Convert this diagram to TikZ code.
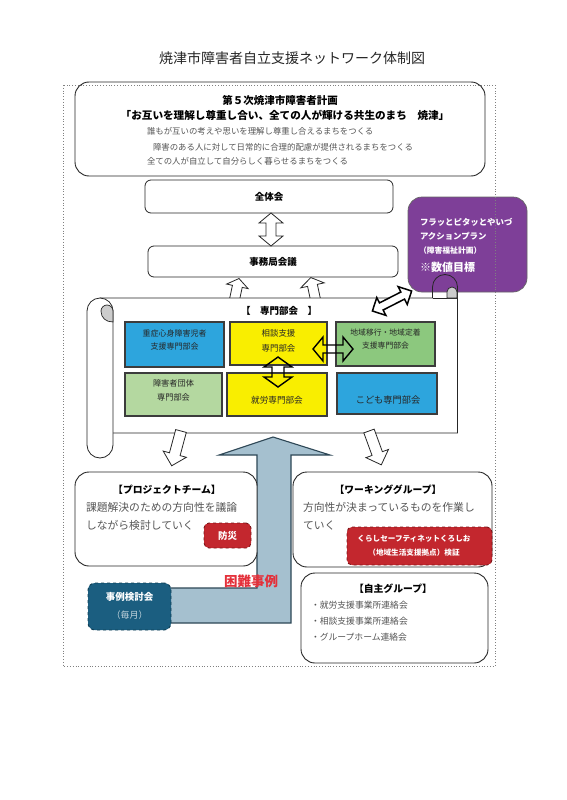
\documentclass[tikz,border=0pt]{standalone}
\usepackage{fontspec}
\setmainfont{Noto Sans CJK JP}
\definecolor{gtxt}{HTML}{555555}
\definecolor{bbord}{HTML}{3C3C3C}
\definecolor{cblue}{HTML}{2DA5DD}
\definecolor{cyellow}{HTML}{F9EE00}
\definecolor{cgreen}{HTML}{8CC87E}
\definecolor{clgreen}{HTML}{B4D8A0}
\definecolor{cpurple}{HTML}{7E3F98}
\definecolor{cred}{HTML}{C3272E}
\definecolor{credb}{HTML}{7A1518}
\definecolor{cteal}{HTML}{1B5E80}
\definecolor{ctealb}{HTML}{0F3F55}
\definecolor{carrow}{HTML}{A5C0CF}
\definecolor{carrowb}{HTML}{2E4756}
\definecolor{ckonnan}{HTML}{E4303A}
\tikzset{
  txt/.style={inner sep=0pt, outer sep=0pt},
  rbox/.style={draw=black!85, line width=0.9pt, rounded corners=14pt, fill=white, inner sep=0pt},
  sbox/.style={draw=black!85, line width=0.8pt, rounded corners=6pt, fill=white, inner sep=0pt},
  ubox/.style={draw=bbord, line width=1.1pt, inner sep=0pt},
  redbox/.style={fill=cred, draw=credb, dashed, line width=0.9pt, rounded corners=5pt, inner sep=0pt},
  tealbox/.style={fill=cteal, draw=ctealb, dashed, line width=0.9pt, rounded corners=7pt, inner sep=0pt},
  hollow/.style={draw=black!85, line width=0.8pt, fill=white},
  innerarr/.style={draw=black, line width=1.4pt},
  pics/dblarr/.style args={#1/#2/#3/#4}{code={
    \path[pic actions] (-#1/2,0) -- (-#1/2+#4,#3) -- (-#1/2+#4,#2) -- (#1/2-#4,#2) -- (#1/2-#4,#3) -- (#1/2,0) -- (#1/2-#4,-#3) -- (#1/2-#4,-#2) -- (-#1/2+#4,-#2) -- (-#1/2+#4,-#3) -- cycle;
  }},
  pics/sglarr/.style args={#1/#2/#3/#4}{code={
    \path[pic actions] (0,#2) -- (#1-#4,#2) -- (#1-#4,#3) -- (#1,0) -- (#1-#4,-#3) -- (#1-#4,-#2) -- (0,-#2) -- cycle;
  }},
}
\begin{document}
\begin{tikzpicture}[x=1pt,y=-1pt]
\fill[white] (0,0) rectangle (566,800);
\useasboundingbox (0,0) rectangle (566,800);

% title
\node[txt, font=\fontsize{14}{16}\selectfont, text=black!85] (title) at (292,58) {焼津市障害者自立支援ネットワーク体制図};

% top plan box
\node[rbox, minimum width=410, minimum height=94] (plan) at (280,129) {};
\node[txt, font=\bfseries\fontsize{10.5}{12}\selectfont] (plantitle) at (280,100) {第５次焼津市障害者計画};
\node[txt, font=\bfseries\fontsize{10.6}{12}\selectfont] (slogan) at (285,115) {「お互いを理解し尊重し合い、全ての人が輝ける共生のまち　焼津」};
\node[txt, anchor=west, text=gtxt, font=\fontsize{8.4}{10}\selectfont] (l1) at (147,131) {誰もが互いの考えや思いを理解し尊重し合えるまちをつくる};
\node[txt, anchor=west, text=gtxt, font=\fontsize{8.4}{10}\selectfont] (l2) at (153,147) {障害のある人に対して日常的に合理的配慮が提供されるまちをつくる};
\node[txt, anchor=west, text=gtxt, font=\fontsize{8.4}{10}\selectfont] (l3) at (147,161) {全ての人が自立して自分らしく暮らせるまちをつくる};

% zentai / jimukyoku
\node[sbox, minimum width=248, minimum height=33, font=\bfseries\fontsize{9.5}{11}\selectfont] (zentai) at (269,196.5) {全体会};
\node[sbox, minimum width=250, minimum height=31, font=\bfseries\fontsize{9.5}{11}\selectfont] (jimu) at (273,261.5) {事務局会議};
\pic[hollow, rotate=90] at (271,229.5) {dblarr={33/5/12/10}};

% purple action plan box
\node[fill=cpurple, draw=black!60, line width=0.7pt, rounded corners=14pt, minimum width=119, minimum height=95, inner sep=0pt] (action) at (467.5,244.5) {};
\node[txt, anchor=west, text=white, font=\bfseries\fontsize{8.4}{10}\selectfont] (a1) at (420,222) {フラッとピタッとやいづ};
\node[txt, anchor=west, text=white, font=\bfseries\fontsize{8.4}{10}\selectfont] (a2) at (420,236) {アクションプラン};
\node[txt, anchor=west, text=white, font=\bfseries\fontsize{7.8}{10}\selectfont] (a3) at (419,251) {（障害福祉計画）};
\node[txt, anchor=west, text=white, font=\bfseries\fontsize{11}{12}\selectfont] (a4) at (420,267) {※数値目標};

% up arrows from scroll to jimukyoku (behind scroll)
\pic[hollow, rotate=78] at (234,302) {sglarr={24/5/11/8}};
\pic[hollow, rotate=102] at (316,302) {sglarr={25/5/12/8}};

% scroll
\fill[white] (113,298) rectangle (457.5,433);
\draw[black!85, line width=0.8pt] (100,298) -- (432.5,298) -- (432.5,287) arc[start angle=180, end angle=360, radius=12.5] -- (457.5,433) -- (113,433);
\draw[black!85, line width=0.8pt] (432.5,298) -- (457.5,298);
\filldraw[fill=gray!40, draw=black!85, line width=0.7pt] (447,298) -- (447,292) arc[start angle=180, end angle=360, radius=5] -- (457,298) -- cycle;
\filldraw[fill=white, draw=black!85, line width=0.8pt] (87,445) -- (87,311) arc[start angle=180, end angle=360, radius=13] -- (113,445) arc[start angle=0, end angle=180, radius=13] -- cycle;
\filldraw[fill=gray!40, draw=black!85, line width=0.7pt] (113,322) -- (113,311) arc[start angle=0, end angle=-180, radius=6] .. controls (101,318) and (106,322) .. (113,322) -- cycle;
\node[txt, font=\bfseries\fontsize{9.5}{11}\selectfont] (senmon) at (279,311) {【　専門部会　】};

% sub-committee boxes
\node[ubox, fill=cblue, minimum width=99, minimum height=45] (b1) at (174.5,344.5) {};
\node[ubox, fill=cyellow, minimum width=97, minimum height=43] (b2) at (278.5,343.5) {};
\node[ubox, fill=cgreen, minimum width=99, minimum height=44] (b3) at (385.5,344) {};
\node[ubox, fill=clgreen, minimum width=97, minimum height=43] (b4) at (173.5,394.5) {};
\node[ubox, fill=cyellow, minimum width=100, minimum height=43] (b5) at (277,394.5) {};
\node[ubox, fill=cblue, minimum width=100, minimum height=41] (b6) at (387,393.5) {};
\node[txt, align=center, text=black!85, font=\fontsize{8}{13}\selectfont] (t1) at (174.5,339.5) {重症心身障害児者\\支援専門部会};
\node[txt, align=center, text=black!85, font=\fontsize{8.4}{15}\selectfont] (t2) at (278.5,340.5) {相談支援\\専門部会};
\node[txt, align=center, text=black!85, font=\fontsize{7.8}{13}\selectfont] (t3) at (385.5,339.5) {地域移行・地域定着\\支援専門部会};
\node[txt, align=center, text=black!85, font=\fontsize{8.2}{14}\selectfont] (t4) at (173.5,390) {障害者団体\\専門部会};
\node[txt, text=black!85, font=\fontsize{8.6}{10}\selectfont] (t5) at (277,400) {就労専門部会};
\node[txt, text=black!85, font=\fontsize{9.2}{10}\selectfont] (t6) at (388,400) {こども専門部会};
\pic[innerarr] at (333,349) {dblarr={40/4/12/10}};
\pic[innerarr, rotate=90] at (278,372) {dblarr={30/6/14/10}};

% diagonal double arrow scroll <-> action plan
\pic[draw=black, line width=1.5pt, fill=white, rotate=27] at (392,301) {dblarr={44/4/10/10}};

% down arrows
\pic[hollow, rotate=-105] at (181,431) {sglarr={36/5.5/12/12}};
\pic[hollow, rotate=-70] at (369,431) {sglarr={36/5.5/12/12}};

% big light blue arrow
\filldraw[fill=carrow, draw=carrowb, line width=1.1pt] (150,588) -- (257,588) -- (257,455) -- (219,455) -- (273,437) -- (330,455) -- (291,455) -- (291,623) -- (150,623) -- cycle;

% project team
\node[rbox, minimum width=182, minimum height=94] (pt) at (166,519) {};
\node[txt, font=\bfseries\fontsize{9.8}{11}\selectfont] (ptt) at (167,490) {【プロジェクトチーム】};
\node[txt, anchor=west, text=gtxt, font=\fontsize{10.8}{12}\selectfont] (pt1) at (86,507.5) {課題解決のための方向性を議論};
\node[txt, anchor=west, text=gtxt, font=\fontsize{10.8}{12}\selectfont] (pt2) at (86,525.5) {しながら検討していく};
\node[redbox, minimum width=47, minimum height=25, text=white, font=\bfseries\fontsize{9.5}{11}\selectfont] (bousai) at (227.5,535.5) {防災};

% working group
\node[rbox, minimum width=199, minimum height=95] (wg) at (392.5,519.5) {};
\node[txt, font=\bfseries\fontsize{9.8}{11}\selectfont] (wgt) at (388,490) {【ワーキンググループ】};
\node[txt, anchor=west, text=gtxt, font=\fontsize{10.8}{12}\selectfont] (wg1) at (303,507.5) {方向性が決まっているものを作業し};
\node[txt, anchor=west, text=gtxt, font=\fontsize{10.8}{12}\selectfont] (wg2) at (303,525.5) {ていく};
\node[redbox, minimum width=145, minimum height=38] (kurashi) at (419.5,546) {};
\node[txt, align=center, text=white, font=\bfseries\fontsize{7.6}{14}\selectfont] (kt) at (414,546) {くらしセーフティネットくろしお\\（地域生活支援拠点）検証};

% self group
\node[rbox, minimum width=187, minimum height=90] (sg) at (394.5,618) {};
\node[txt, font=\bfseries\fontsize{9.8}{11}\selectfont] (sgt) at (393,589) {【自主グループ】};
\node[txt, anchor=west, text=gtxt, font=\fontsize{8.8}{10}\selectfont] (sg1) at (311,605) {・就労支援事業所連絡会};
\node[txt, anchor=west, text=gtxt, font=\fontsize{8.8}{10}\selectfont] (sg2) at (311,621) {・相談支援事業所連絡会};
\node[txt, anchor=west, text=gtxt, font=\fontsize{8.8}{10}\selectfont] (sg3) at (311,637) {・グループホーム連絡会};

% case conference
\node[tealbox, minimum width=83, minimum height=47] (jirei) at (129.5,606.5) {};
\node[txt, text=white, font=\bfseries\fontsize{9.5}{11}\selectfont] (jt1) at (129.5,597) {事例検討会};
\node[txt, text=white!75!cteal, font=\fontsize{9}{11}\selectfont] (jt2) at (129.5,615.5) {（毎月）};
\node[txt, text=ckonnan, font=\bfseries\fontsize{13.5}{15}\selectfont] (konnan) at (251,581) {困難事例};

% dotted outer border
\draw[black!50, dotted, line width=0.8pt] (63,85) rectangle (495,666);
\end{tikzpicture}
\end{document}
